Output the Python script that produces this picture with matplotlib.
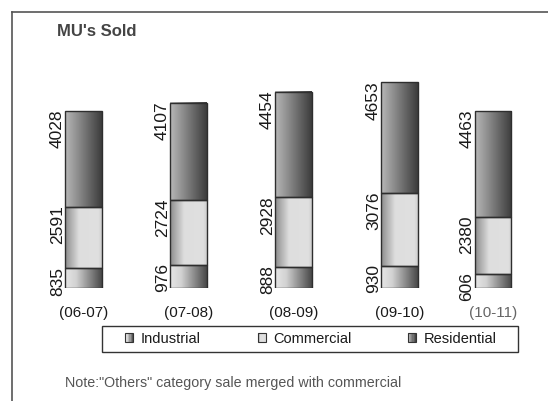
import numpy as np
import matplotlib
matplotlib.use("Agg")
import matplotlib.pyplot as plt
from matplotlib.colors import LinearSegmentedColormap
from matplotlib.patches import Rectangle
from matplotlib.legend_handler import HandlerBase
from matplotlib.lines import Line2D

plt.rcParams['font.family'] = ['Liberation Sans', 'DejaVu Sans']

# ---- data ----
categories = ["(06-07)", "(07-08)", "(08-09)", "(09-10)", "(10-11)"]
industrial = [835, 976, 888, 930, 606]
commercial = [2591, 2724, 2928, 3076, 2380]
residential = [4028, 4107, 4454, 4653, 4463]
series_names = ["Industrial", "Commercial", "Residential"]
title = "MU's Sold"
note = 'Note:"Others" category sale merged with commercial'

# ---- layout ----
xpos = [0, 1, 2, 3.01, 3.9]
bar_w = 0.352

cmaps = [
    LinearSegmentedColormap.from_list("ind", [(0, "#e6e6e6"), (0.3, "#d2d2d2"), (1, "#484848")]),
    LinearSegmentedColormap.from_list("com", [(0, "#8c8c8c"), (0.38, "#dedede"), (0.9, "#e0e0e0"), (1, "#cfcfcf")]),
    LinearSegmentedColormap.from_list("res", [(0, "#b8b8b8"), (1, "#3c3c3c")]),
]

W, H = 548, 401
fig = plt.figure(figsize=(W / 100, H / 100), dpi=100)
ax = fig.add_axes([0, 113 / H, 1, 237.5 / H])
ax.set_xlim(-83.5 / 105, (W - 83.5) / 105)
ax.set_ylim(0, 10000)
for s in ax.spines.values():
    s.set_visible(False)
ax.set_yticks([])

grad = np.linspace(0, 1, 128).reshape(1, -1)
bottoms = np.zeros(len(categories))
for vals, cmap in zip([industrial, commercial, residential], cmaps):
    vals = np.array(vals, dtype=float)
    for x, b, v in zip(xpos, bottoms, vals):
        ax.imshow(grad, cmap=cmap, extent=(x - bar_w / 2, x + bar_w / 2, b, b + v),
                  aspect='auto', interpolation='bilinear', zorder=1)
        ax.text(x - bar_w / 2 - 0.002, b + v + 60, f"{int(v)}", rotation=90,
                ha='right', va='top', fontsize=12.5, color='#1a1a1a')
    ax.bar(xpos, vals, bar_w, bottom=bottoms, fill=False, edgecolor='#2e2e2e',
           linewidth=1.0, zorder=2)
    bottoms = bottoms + vals

ax.set_xlim(-83.5 / 105, (W - 83.5) / 105)
ax.set_ylim(0, 10000)
ax.set_xticks(xpos)
ax.set_xticklabels(categories, fontsize=11, color='#1a1a1a')
ax.tick_params(axis='x', length=0, pad=13)
ax.get_xticklabels()[-1].set_color('#666666')


class GradHandler(HandlerBase):
    def __init__(self, cmap):
        super().__init__()
        self.cmap = cmap

    def create_artists(self, legend, orig_handle, xdescent, ydescent, width, height, fontsize, trans):
        n = 6
        arts = []
        for i in range(n):
            arts.append(Rectangle((-xdescent + i * width / n, -ydescent), width / n, height,
                                  facecolor=self.cmap((i + 0.5) / n), edgecolor='none', transform=trans))
        arts.append(Rectangle((-xdescent, -ydescent), width, height, fill=False,
                              edgecolor='#333333', linewidth=0.8, transform=trans))
        return arts


handles = [Rectangle((0, 0), 1, 1) for _ in series_names]
hmap = {h: GradHandler(c) for h, c in zip(handles, cmaps)}
leg = fig.legend(handles, series_names, handler_map=hmap, ncol=3, loc='center',
                 bbox_to_anchor=(311 / W, 1 - 339 / H),
                 fontsize=10.5, frameon=False,
                 handlelength=0.55, handleheight=0.55, handletextpad=0.5,
                 borderpad=0.0, borderaxespad=0, columnspacing=3.9)
for t in leg.get_texts():
    t.set_color('#1a1a1a')

fig.add_artist(Rectangle((102 / W, 1 - 352 / H), 416 / W, 26 / H, transform=fig.transFigure,
                         fill=False, edgecolor='#333333', linewidth=1.0))

fig.text(57 / W, 1 - 31 / H, title, fontsize=12, fontweight='bold', color='#444444',
         ha='left', va='center')
fig.text(65 / W, 1 - 383 / H, note, fontsize=10.3, color='#555555', ha='left', va='center')

fig.add_artist(Line2D([11.5 / W, 11.5 / W], [0, 1 - 11.5 / H], transform=fig.transFigure,
                      color='#555555', linewidth=1.2))
fig.add_artist(Line2D([11.5 / W, 1], [1 - 11.5 / H, 1 - 11.5 / H], transform=fig.transFigure,
                      color='#555555', linewidth=1.2))

fig.savefig("out.png", dpi=100)
